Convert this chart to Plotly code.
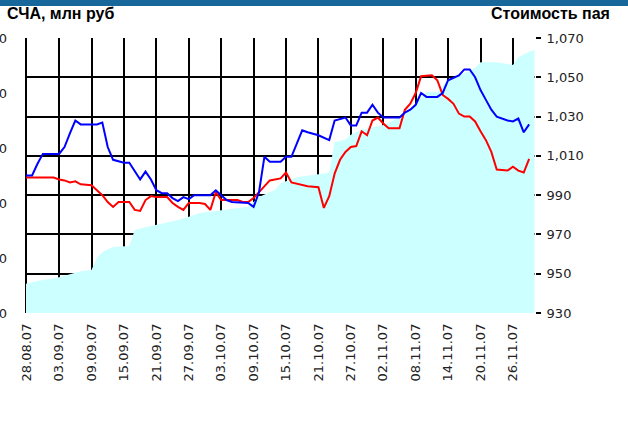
import plotly.graph_objects as go

# СЧА (net asset value), mln rub - left axis, drawn as area
nav_dates = [
    "2007-08-27", "2007-08-30", "2007-09-03", "2007-09-06", "2007-09-07", "2007-09-09",
    "2007-09-10", "2007-09-11", "2007-09-13", "2007-09-16", "2007-09-17", "2007-09-19",
    "2007-09-23", "2007-09-25", "2007-09-27", "2007-09-29", "2007-10-03", "2007-10-08",
    "2007-10-10", "2007-10-11", "2007-10-13", "2007-10-14", "2007-10-17", "2007-10-23",
    "2007-10-24", "2007-10-26", "2007-10-27", "2007-10-29", "2007-11-02", "2007-11-06",
    "2007-11-08", "2007-11-10", "2007-11-12", "2007-11-14", "2007-11-17", "2007-11-19",
    "2007-11-20", "2007-11-23", "2007-11-26", "2007-11-27", "2007-11-29", "2007-11-30",
]
nav_values = [
    755, 790, 825, 865, 880, 890,
    1000, 1055, 1100, 1110, 1255, 1280,
    1325, 1345, 1375, 1410, 1435, 1465,
    1555, 1575, 1620, 1680, 1735, 1775,
    2055, 2075, 2120, 2165, 2210, 2300,
    2410, 2510, 2510, 2620, 2680, 2730,
    2780, 2780, 2755, 2825, 2875, 2890,
]

# Стоимость пая (unit price) - right axis, blue line
unit_dates = [
    "2007-08-27", "2007-08-29", "2007-08-30", "2007-08-31", "2007-09-03", "2007-09-04",
    "2007-09-05", "2007-09-06", "2007-09-07", "2007-09-10", "2007-09-11", "2007-09-12",
    "2007-09-13", "2007-09-15", "2007-09-16", "2007-09-17", "2007-09-18", "2007-09-19",
    "2007-09-20", "2007-09-21", "2007-09-22", "2007-09-23", "2007-09-24", "2007-09-25",
    "2007-09-26", "2007-09-27", "2007-09-28", "2007-10-01", "2007-10-02", "2007-10-03",
    "2007-10-04", "2007-10-05", "2007-10-08", "2007-10-09", "2007-10-10", "2007-10-11",
    "2007-10-12", "2007-10-14", "2007-10-15", "2007-10-16", "2007-10-18", "2007-10-19",
    "2007-10-21", "2007-10-23", "2007-10-24", "2007-10-26", "2007-10-27", "2007-10-28",
    "2007-10-29", "2007-10-30", "2007-10-31", "2007-11-01", "2007-11-02", "2007-11-05",
    "2007-11-06", "2007-11-07", "2007-11-08", "2007-11-09", "2007-11-10", "2007-11-12",
    "2007-11-13", "2007-11-14", "2007-11-16", "2007-11-17", "2007-11-18", "2007-11-19",
    "2007-11-20", "2007-11-21", "2007-11-22", "2007-11-23", "2007-11-25", "2007-11-26",
    "2007-11-27", "2007-11-28", "2007-11-29",
]
unit_values = [
    1000, 1000, 1006, 1011, 1011, 1014.5,
    1021.5, 1028, 1026, 1026, 1027, 1014.5,
    1008, 1006.5, 1006.5, 1002, 998, 1002,
    998, 992.5, 991, 991, 988.5, 987,
    989, 988, 990, 990, 992.5, 990,
    987.5, 986.5, 986, 984, 991.5, 1009.5,
    1007, 1007, 1009.5, 1009.5, 1023, 1022,
    1020.5, 1018, 1028, 1029.5, 1025.5, 1025.5,
    1032, 1032, 1036, 1032, 1029.5, 1029.5,
    1032, 1033.5, 1036, 1042, 1040, 1040,
    1042, 1048.5, 1051, 1054, 1054, 1050,
    1043.5, 1038.5, 1033.5, 1030, 1028, 1027.5,
    1029, 1022, 1026,
]

# benchmark, right axis, red line
bench_dates = [
    "2007-08-27", "2007-09-02", "2007-09-03", "2007-09-04", "2007-09-05", "2007-09-06",
    "2007-09-07", "2007-09-09", "2007-09-10", "2007-09-11", "2007-09-12", "2007-09-13",
    "2007-09-14", "2007-09-16", "2007-09-17", "2007-09-18", "2007-09-19", "2007-09-20",
    "2007-09-21", "2007-09-23", "2007-09-24", "2007-09-25", "2007-09-26", "2007-09-27",
    "2007-09-29", "2007-09-30", "2007-10-01", "2007-10-02", "2007-10-03", "2007-10-04",
    "2007-10-06", "2007-10-07", "2007-10-08", "2007-10-09", "2007-10-10", "2007-10-11",
    "2007-10-12", "2007-10-14", "2007-10-15", "2007-10-16", "2007-10-18", "2007-10-19",
    "2007-10-21", "2007-10-22", "2007-10-23", "2007-10-24", "2007-10-25", "2007-10-26",
    "2007-10-27", "2007-10-28", "2007-10-29", "2007-10-30", "2007-10-31", "2007-11-01",
    "2007-11-02", "2007-11-03", "2007-11-05", "2007-11-06", "2007-11-07", "2007-11-08",
    "2007-11-09", "2007-11-11", "2007-11-12", "2007-11-13", "2007-11-14", "2007-11-15",
    "2007-11-16", "2007-11-17", "2007-11-18", "2007-11-19", "2007-11-20", "2007-11-21",
    "2007-11-22", "2007-11-23", "2007-11-25", "2007-11-26", "2007-11-27", "2007-11-28",
    "2007-11-29",
]
bench_values = [
    999, 999, 998, 997.5, 996.5, 997,
    995.5, 995, 992.5, 990, 986.5, 984,
    986.5, 986.5, 982.5, 982, 987.5, 989.5,
    989, 989, 986, 984, 982.5, 986,
    986, 985.5, 982.5, 991.5, 987.5, 987.5,
    987.5, 986.5, 986.5, 988.5, 991.5, 994,
    997.5, 998.5, 1001.5, 996.5, 995, 994.5,
    994, 983.5, 989.5, 1001, 1008, 1012,
    1014.5, 1015, 1022.5, 1020.5, 1028, 1029.5,
    1026.5, 1024, 1024, 1033.5, 1036.5, 1042,
    1050.5, 1051, 1048.5, 1041, 1039, 1036.5,
    1031.5, 1030, 1030, 1027.5, 1022.5, 1018,
    1012, 1003, 1002.5, 1004.5, 1002.5, 1001.5,
    1008.5,
]

fig = go.Figure()

fig.add_trace(go.Scatter(
    x=nav_dates, y=nav_values, yaxis="y",
    mode="lines", fill="tozeroy", fillcolor="#ccffff",
    line=dict(width=0, color="#ccffff"), hoverinfo="skip",
))
fig.add_trace(go.Scatter(
    x=bench_dates, y=bench_values, yaxis="y2",
    mode="lines", line=dict(color="#ff0000", width=2),
))
fig.add_trace(go.Scatter(
    x=unit_dates, y=unit_values, yaxis="y2",
    mode="lines", line=dict(color="#0000ff", width=2),
))

tick_font = dict(family="DejaVu Sans", size=13, color="#222222")

# plot area spans 509 x 275 px inside the 628 x 421 page
pw, ph = 509, 275
ml, mt = 26, 38

fig.update_layout(
    width=628, height=421,
    margin=dict(l=ml, r=628 - ml - pw, t=mt, b=421 - mt - ph),
    paper_bgcolor="white", plot_bgcolor="white",
    showlegend=False,
    xaxis=dict(
        type="date", automargin=False,
        range=["2007-08-27 21:00", "2007-11-30 02:00"],
        tick0="2007-08-28", dtick=6 * 86400000,
        tickformat="%d.%m.%y", tickangle=-90,
        tickfont=tick_font,
        showgrid=True, gridcolor="black", gridwidth=2,
        ticks="", showline=False, zeroline=False,
        ticklabelstandoff=7,
    ),
    yaxis=dict(
        automargin=False,
        range=[500, 3000], dtick=500, tick0=500, tickformat=",d",
        tickfont=tick_font, showgrid=False, zeroline=False,
        showline=False, ticks="",
        ticklabelstandoff=18,
    ),
    yaxis2=dict(
        overlaying="y", side="right", automargin=False,
        range=[930, 1070], dtick=20, tick0=930, tickformat=",d",
        tickfont=tick_font,
        showgrid=True, gridcolor="black", gridwidth=2,
        ticks="outside", ticklen=5, tickwidth=2, tickcolor="black",
        zeroline=False, showline=False,
        ticklabelstandoff=3,
    ),
)

# left border line, sits under the area like the grid
fig.add_shape(
    type="line", xref="paper", yref="paper",
    x0=0, x1=0, y0=0, y1=1,
    line=dict(color="black", width=2), layer="below",
)

# dark band along the top edge
fig.add_shape(
    type="rect", xref="paper", yref="paper",
    x0=-ml / pw, x1=(628 - ml) / pw,
    y0=(ph + mt - 6) / ph, y1=(ph + mt) / ph,
    fillcolor="#17679a", line_width=0, layer="above",
)

title_font = dict(family="Liberation Sans", size=16, color="black")
fig.add_annotation(
    text="<b>СЧА, млн руб</b>", xref="paper", yref="paper",
    x=(5 - ml) / pw, y=(ph + mt - 13) / ph,
    xanchor="left", yanchor="middle", showarrow=False, font=title_font,
)
fig.add_annotation(
    text="<b>Стоимость пая</b>", xref="paper", yref="paper",
    x=(612 - ml) / pw, y=(ph + mt - 13) / ph,
    xanchor="right", yanchor="middle", showarrow=False, font=title_font,
)

# drop the browser's default 8px body margin so the figure sits at the page corner
fig.write_html(
    "out.html",
    config={"displayModeBar": False},
    post_script="document.body.style.margin = '0';",
)
